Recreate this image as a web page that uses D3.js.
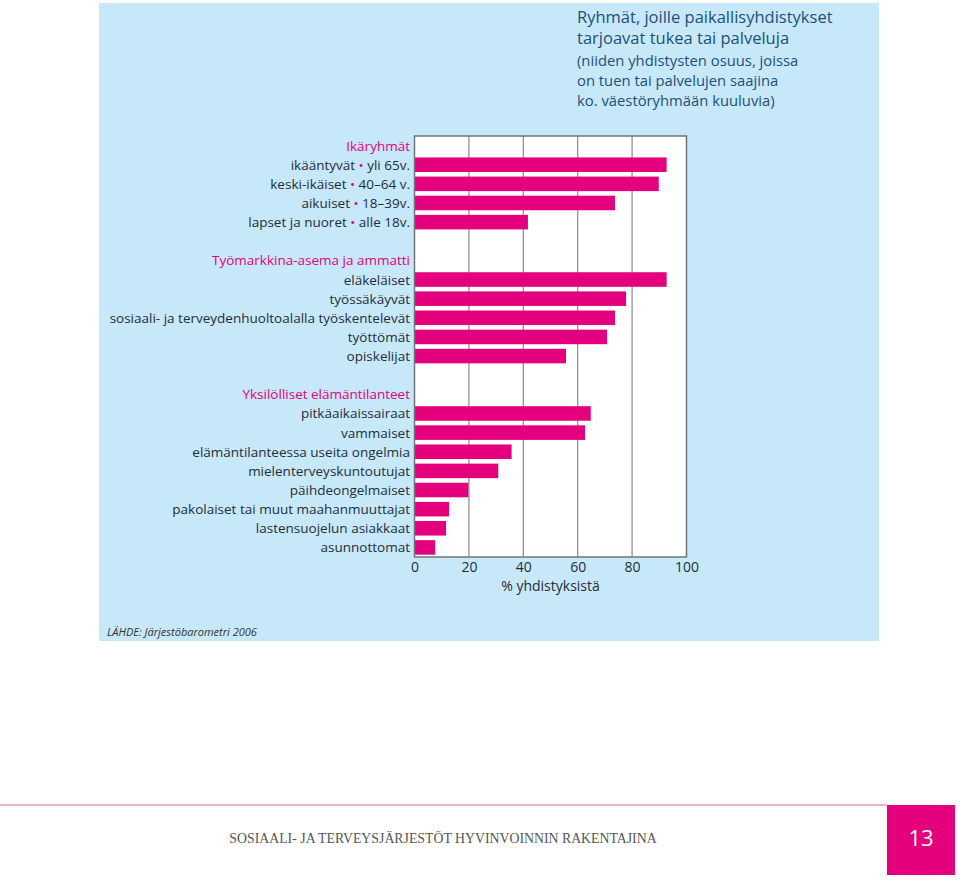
<!DOCTYPE html>
<html><head><meta charset="utf-8">
<script src="https://cdn.jsdelivr.net/npm/d3@7"></script>
<style>body{margin:0;background:#fff}svg{display:block}</style>
</head><body>
<script>
const titleLines = ["Ryhmät, joille paikallisyhdistykset", "tarjoavat tukea tai palveluja"];
const subtitleLines = ["(niiden yhdistysten osuus, joissa", "on tuen tai palvelujen saajina", "ko. väestöryhmään kuuluvia)"];
const groupNames = ["Ikäryhmät", "Työmarkkina-asema ja ammatti", "Yksilölliset elämäntilanteet"];
const ageLabels = [["ikääntyvät", "yli 65v."], ["keski-ikäiset", "40–64 v."], ["aikuiset", "18–39v."], ["lapset ja nuoret", "alle 18v."]];
const ageValues = [92.7, 89.8, 73.7, 41.7];
const workLabels = ["eläkeläiset", "työssäkäyvät", "sosiaali- ja terveydenhuoltoalalla työskentelevät", "työttömät", "opiskelijat"];
const workValues = [92.7, 77.8, 73.7, 70.8, 55.7];
const lifeLabels = ["pitkäaikaissairaat", "vammaiset", "elämäntilanteessa useita ongelmia", "mielenterveyskuntoutujat", "päihdeongelmaiset", "pakolaiset tai muut maahanmuuttajat", "lastensuojelun asiakkaat", "asunnottomat"];
const lifeValues = [64.8, 62.7, 35.7, 30.8, 19.8, 12.7, 11.6, 7.6];
const xTicks = [0, 20, 40, 60, 80, 100];
const axisTitle = "% yhdistyksistä";
const sourceText = "LÄHDE: Järjestöbarometri 2006";
const footerText = "SOSIAALI- JA TERVEYSJÄRJESTÖT HYVINVOINNIN RAKENTAJINA";
const pageNumber = "13";

const W = 960, H = 880;
const MAG = "#e4007c", BLUE = "#c7e8f8", DARK = "#1f2d3d", TITLE = "#1d4f7c";
const FONT = "'Open Sans', 'Noto Sans', sans-serif";

// Build rows
const rows = [];
const addGroup = (gi, labels, values, last) => {
  rows.push({key: "h" + gi, type: "header", text: groupNames[gi]});
  labels.forEach((l, i) => rows.push({key: "g" + gi + "_" + i, type: "bar", label: l, value: values[i]}));
  if (!last) rows.push({key: "b" + gi, type: "blank"});
};
addGroup(0, ageLabels, ageValues, false);
addGroup(1, workLabels, workValues, false);
addGroup(2, lifeLabels, lifeValues, true);

const svg = d3.select("body").append("svg").attr("width", W).attr("height", H);

svg.append("rect").attr("x", 99).attr("y", 3).attr("width", 780).attr("height", 638).attr("fill", BLUE);

const x = d3.scaleLinear().domain([0, 100]).range([414.5, 686.5]);
const y = d3.scaleBand().domain(rows.map(r => r.key)).range([136, 557]).paddingInner(0.24).paddingOuter(0.12);

// plot background
svg.append("rect").attr("x", x(0)).attr("y", 136).attr("width", x(100) - x(0)).attr("height", 557 - 136).attr("fill", "#fff");

// gridlines
svg.append("g").selectAll("line").data(xTicks.slice(1, -1)).join("line")
  .attr("x1", d => x(d)).attr("x2", d => x(d)).attr("y1", 136).attr("y2", 557)
  .attr("stroke", "#8a8a8a").attr("stroke-width", 1.2);

// bars
svg.append("g").selectAll("rect").data(rows.filter(r => r.type === "bar")).join("rect")
  .attr("x", x(0)).attr("y", d => y(d.key)).attr("width", d => x(d.value) - x(0)).attr("height", y.bandwidth())
  .attr("fill", MAG);

// frame
svg.append("rect").attr("x", x(0)).attr("y", 136).attr("width", x(100) - x(0)).attr("height", 557 - 136)
  .attr("fill", "none").attr("stroke", "#6f7478").attr("stroke-width", 1.5);

// x axis
const xAxis = d3.axisBottom(x).tickValues(xTicks).tickSize(0).tickPadding(5);
const gx = svg.append("g").attr("transform", "translate(0,557)").call(xAxis);
gx.select(".domain").remove();
gx.selectAll("text").attr("font-family", FONT).attr("font-size", 14).attr("fill", DARK);

svg.append("text").attr("x", (x(0) + x(100)) / 2 + 0).attr("y", 591).attr("text-anchor", "middle")
  .attr("font-family", FONT).attr("font-size", 14).attr("fill", DARK).text(axisTitle);

// labels
const lab = svg.append("g").attr("font-family", FONT).attr("font-size", 13.5).attr("text-anchor", "end");
rows.forEach(r => {
  if (r.type === "blank") return;
  const cy = y(r.key) + y.bandwidth() / 2 + 5;
  const t = lab.append("text").attr("x", 410).attr("y", cy);
  if (r.type === "header") {
    t.attr("fill", MAG).text(r.text);
  } else if (Array.isArray(r.label)) {
    t.attr("fill", DARK);
    t.append("tspan").text(r.label[0] + " ");
    t.append("tspan").attr("fill", MAG).text("•");
    t.append("tspan").text(" " + r.label[1]);
  } else {
    t.attr("fill", DARK).text(r.label);
  }
});

// title
const tg = svg.append("g").attr("font-family", FONT).attr("fill", TITLE);
titleLines.forEach((l, i) => tg.append("text").attr("x", 577).attr("y", 23 + i * 21).attr("font-size", 16.5).text(l));
subtitleLines.forEach((l, i) => tg.append("text").attr("x", 577).attr("y", 66 + i * 20).attr("font-size", 14.8).text(l));

// source
svg.append("text").attr("x", 107).attr("y", 636).attr("font-family", FONT).attr("font-style", "italic")
  .attr("font-size", 11).attr("fill", "#333").text(sourceText);

// footer
svg.append("line").attr("x1", 0).attr("x2", 887).attr("y1", 805).attr("y2", 805).attr("stroke", "#e6b3cf").attr("stroke-width", 2);
svg.append("rect").attr("x", 887).attr("y", 805).attr("width", 68).attr("height", 70).attr("fill", MAG);
svg.append("text").attr("x", 921).attr("y", 846).attr("text-anchor", "middle").attr("font-family", FONT)
  .attr("font-size", 22).attr("fill", "#fff").text(pageNumber);
svg.append("text").attr("x", 443).attr("y", 843).attr("text-anchor", "middle").attr("font-family", "'Liberation Serif', 'DejaVu Serif', serif")
  .attr("font-size", 13.8).attr("fill", "#555").text(footerText);
</script>
</body></html>
